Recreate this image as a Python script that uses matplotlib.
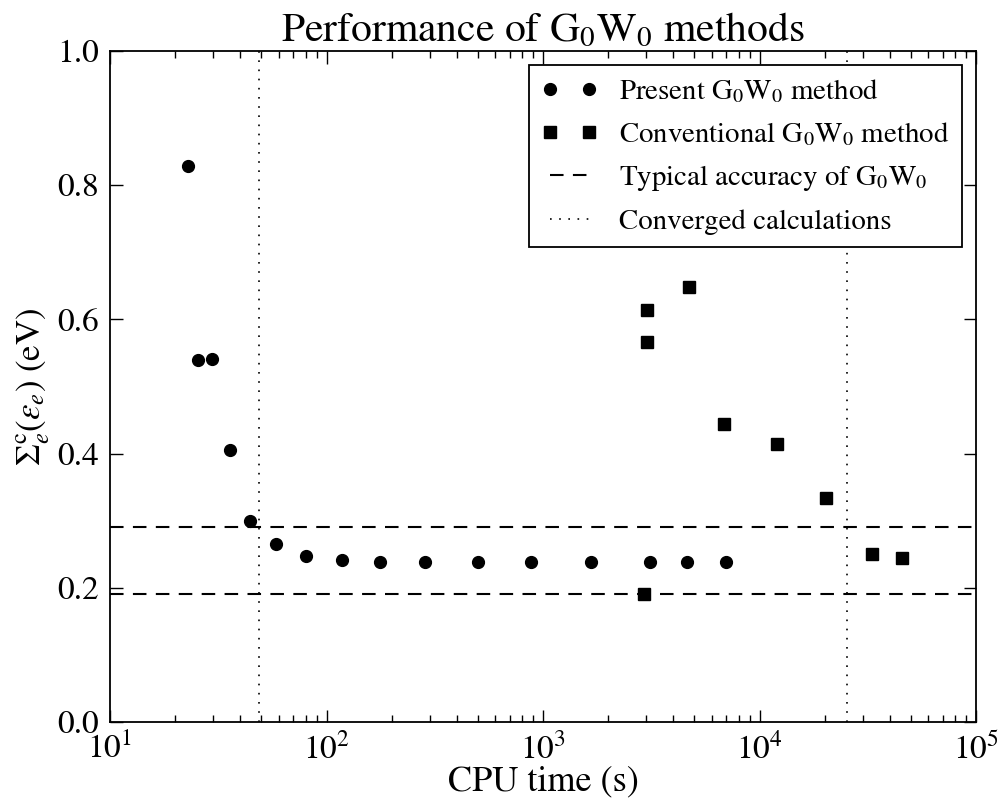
import matplotlib
matplotlib.use("Agg")
import matplotlib.pyplot as plt

# ---------data-------------------
# present G0W0 method: CPU time (s), Sigma (eV)
present_time = [22.9, 25.5, 29.6, 35.8, 44.4, 58.5, 80.3, 118, 176, 285, 501, 881, 1668, 3120, 4624, 7000]
present_sigma = [0.829, 0.540, 0.541, 0.405, 0.300, 0.265, 0.247, 0.241, 0.239, 0.239, 0.239, 0.239, 0.239, 0.239, 0.239, 0.239]

# conventional G0W0 method
conv_time = [2930, 3020, 3020, 4720, 6850, 12050, 20300, 33100, 45500]
conv_sigma = [0.191, 0.614, 0.567, 0.648, 0.444, 0.414, 0.334, 0.250, 0.244]

# typical accuracy band and converged limits
accuracy_levels = [0.29, 0.19]
converged_times = [48.5, 25300]
# ---------------------------------

plt.rcParams["font.family"] = "STIXGeneral"
plt.rcParams["mathtext.fontset"] = "stix"

fig = plt.figure(figsize=(10.05, 8.02), dpi=100)
ax = fig.add_axes([0.1095, 0.0998, 0.8617, 0.8366])

ax.plot(present_time, present_sigma, "o", color="black", markersize=8.5,
        label=r"Present G$_0$W$_0$ method")
ax.plot(conv_time, conv_sigma, "s", color="black", markersize=8.5,
        label=r"Conventional G$_0$W$_0$ method")

for i, lev in enumerate(accuracy_levels):
    ax.axhline(lev, color="black", linewidth=1.5, dashes=(6.5, 4.5),
               label=r"Typical accuracy of G$_0$W$_0$" if i == 0 else None)
for i, t in enumerate(converged_times):
    ax.axvline(t, color="black", linewidth=1.2, dashes=(1, 4.5),
               label="Converged calculations" if i == 0 else None)

ax.set_xscale("log")
ax.set_xlim(10, 1e5)
ax.set_ylim(0, 1.0)
ax.set_yticks([0.0, 0.2, 0.4, 0.6, 0.8, 1.0])
ax.set_yticklabels(["0.0", "0.2", "0.4", "0.6", "0.8", "1.0"])

ax.tick_params(which="both", direction="in", top=True, right=True, labelsize=24)
ax.tick_params(which="major", length=9, width=1, pad=8)
ax.tick_params(which="minor", length=5, width=1)
for sp in ax.spines.values():
    sp.set_linewidth(1.3)

ax.set_xlabel("CPU time (s)", fontsize=26, labelpad=-1)
ax.set_ylabel(r"$\Sigma_e^{\mathrm{c}}(\varepsilon_e)$ (eV)", fontsize=25, labelpad=4)
ax.set_title(r"Performance of G$_0$W$_0$ methods", fontsize=30, pad=7)

leg = ax.legend(loc="upper right", numpoints=2, fontsize=20.8, fancybox=False,
                framealpha=1, edgecolor="black", handlelength=1.95,
                handletextpad=0.75, labelspacing=0.52, borderpad=0.42)
leg.get_frame().set_linewidth(1.3)

fig.savefig("out.png", dpi=100)
